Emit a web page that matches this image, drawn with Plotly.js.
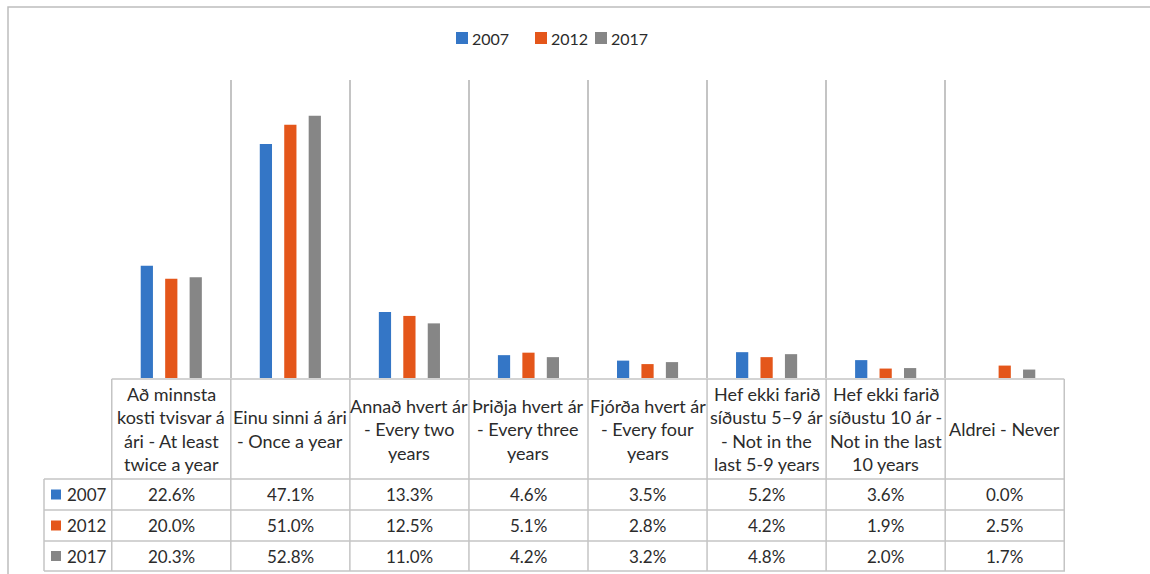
<!DOCTYPE html>
<html>
<head>
<meta charset="utf-8">
<script src="https://cdn.plot.ly/plotly-3.0.1.min.js"></script>
<style>html,body{margin:0;padding:0;background:#fff;}#chart{width:1150px;height:574px;}</style>
</head>
<body>
<div id="chart"></div>
<script>
// ---- data ----
const categories = [
  ["Að minnsta", "kosti tvisvar á", "ári - At least", "twice a year"],
  ["Einu sinni á ári", "- Once a year"],
  ["Annað hvert ár", "- Every two", "years"],
  ["Þriðja hvert ár", "- Every three", "years"],
  ["Fjórða hvert ár", "- Every four", "years"],
  ["Hef ekki farið", "síðustu 5–9 ár", "- Not in the", "last 5-9 years"],
  ["Hef ekki farið", "síðustu 10 ár -", "Not in the last", "10 years"],
  ["Aldrei - Never"]
];
const seriesNames = ["2007", "2012", "2017"];
const values2007 = [22.6, 47.1, 13.3, 4.6, 3.5, 5.2, 3.6, 0.0];
const values2012 = [20.0, 51.0, 12.5, 5.1, 2.8, 4.2, 1.9, 2.5];
const values2017 = [20.3, 52.8, 11.0, 4.2, 3.2, 4.8, 2.0, 1.7];
const seriesValues = [values2007, values2012, values2017];
const colors = ["#3476C6", "#E4561A", "#868686"];

// ---- layout geometry (pixels) ----
const W = 1150, H = 574;
const L = 111, R = 1065, T = 80, B = 378;
const xp = px => (px - L) / (R - L);
const yp = py => (B - py) / (B - T);
const FONT = "Lato, 'Liberation Sans', sans-serif";
const TXT = "#2b2b2b";
const GRID = "#c4c4c4";

const catKeys = categories.map(c => c.join(" "));

const traces = seriesNames.map((name, i) => ({
  type: "bar",
  name: name,
  x: catKeys,
  y: seriesValues[i],
  marker: {color: colors[i]},
  hoverinfo: "x+y",
  showlegend: false
}));

const shapes = [];
const annotations = [];

// outer chart border
shapes.push({type: "rect", xref: "paper", yref: "paper",
  x0: xp(8), x1: xp(1200), y0: yp(7), y1: yp(620),
  line: {color: "#bdbdbd", width: 1.5}, fillcolor: "rgba(0,0,0,0)", layer: "below"});

// table geometry
const headTop = 379, headBot = 479;
const rowLines = [479, 510, 541, 571];
const tableLeft = 44;
const n = categories.length;

shapes.push({type: "line", xref: "x", yref: "paper", x0: -0.5, x1: n - 0.5, y0: yp(headTop), y1: yp(headTop), line: {color: GRID, width: 1.5}});
rowLines.forEach(py => {
  shapes.push({type: "line", xref: "paper", yref: "paper", x0: xp(tableLeft), x1: 1, y0: yp(py), y1: yp(py), line: {color: GRID, width: 1.5}});
});
for (let i = 0; i <= n; i++) {
  shapes.push({type: "line", xref: "x", yref: "paper", x0: i - 0.5, x1: i - 0.5, y0: yp(headTop), y1: yp(rowLines[3]), line: {color: GRID, width: 1.5}});
}
shapes.push({type: "line", xref: "paper", yref: "paper", x0: xp(tableLeft), x1: xp(tableLeft), y0: yp(rowLines[0]), y1: yp(rowLines[3]), line: {color: GRID, width: 1.5}});

// header text lines
const lineH = 23.5;
const headMid = (headTop + headBot) / 2;
categories.forEach((lines, ci) => {
  lines.forEach((t, li) => {
    const py = headMid + (li - (lines.length - 1) / 2) * lineH;
    annotations.push({xref: "x", yref: "paper", x: ci, y: yp(py), text: t, showarrow: false,
      xanchor: "center", yanchor: "middle", font: {family: FONT, size: 18, color: TXT}});
  });
});

// value rows
seriesValues.forEach((vals, si) => {
  const py = (rowLines[si] + rowLines[si + 1]) / 2;
  vals.forEach((v, ci) => {
    annotations.push({xref: "x", yref: "paper", x: ci, y: yp(py), text: v.toFixed(1) + "%", showarrow: false,
      xanchor: "center", yanchor: "middle", font: {family: FONT, size: 17, color: TXT}});
  });
  shapes.push({type: "rect", xref: "paper", yref: "paper", x0: xp(51), x1: xp(61), y0: yp(py - 5), y1: yp(py + 5),
    fillcolor: colors[si], line: {width: 0}});
  annotations.push({xref: "paper", yref: "paper", x: xp(65), y: yp(py), text: seriesNames[si], showarrow: false,
    xanchor: "left", yanchor: "middle", font: {family: FONT, size: 17, color: TXT}});
});

// legend at top
const legendY = 38;
const legendX = [456, 535, 595];
seriesNames.forEach((name, si) => {
  const x0 = legendX[si];
  shapes.push({type: "rect", xref: "paper", yref: "paper", x0: xp(x0), x1: xp(x0 + 12), y0: yp(legendY - 6), y1: yp(legendY + 6),
    fillcolor: colors[si], line: {width: 0}});
  annotations.push({xref: "paper", yref: "paper", x: xp(x0 + 14), y: yp(legendY), text: name, showarrow: false,
    xanchor: "left", yanchor: "middle", font: {family: FONT, size: 16, color: TXT}});
});

const layout = {
  width: W, height: H,
  margin: {l: L, r: W - R, t: T, b: H - B, pad: 0},
  paper_bgcolor: "#ffffff", plot_bgcolor: "#ffffff",
  barmode: "group", bargap: 0.384, bargroupgap: 0.5,
  showlegend: false,
  xaxis: {type: "category", tickson: "boundaries", showgrid: true, gridcolor: GRID, gridwidth: 1.5,
    showticklabels: false, ticks: "", showline: false, zeroline: false, fixedrange: true},
  yaxis: {range: [0, 60], showgrid: false, showticklabels: false, ticks: "", zeroline: false, showline: false, fixedrange: true},
  shapes: shapes,
  annotations: annotations,
  font: {family: FONT}
};

Plotly.newPlot("chart", traces, layout, {displayModeBar: false, staticPlot: true});
</script>
</body>
</html>
